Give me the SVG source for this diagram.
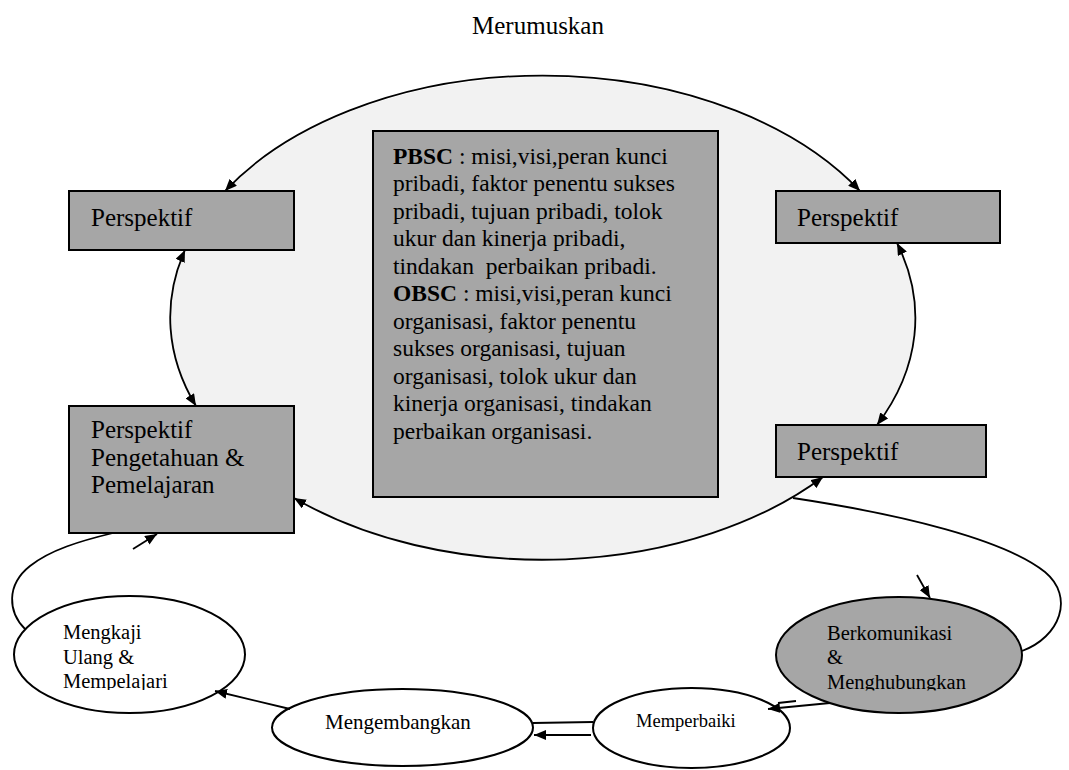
<svg xmlns="http://www.w3.org/2000/svg" width="1069" height="770" viewBox="0 0 1069 770">
  <style>
    text { font-family: "Liberation Serif", "Times New Roman", serif; fill: #000; }
    .box { fill: #a6a6a6; stroke: #000; stroke-width: 2; }
    .oval { fill: #fff; stroke: #000; stroke-width: 2; }
    .oval-g { fill: #a6a6a6; stroke: #000; stroke-width: 2; }
    .c { fill: none; stroke: #000; stroke-width: 1.8; }
    .arr { marker-end: url(#ah); }
    .both { marker-start: url(#ah); marker-end: url(#ah); }
    .t25 { font-size: 25px; }
    .t23 { font-size: 23.5px; white-space: pre; }
    .t21 { font-size: 21px; }
    .t20 { font-size: 20.5px; }
    .t18 { font-size: 18.5px; }
  </style>
  <defs>
    <marker id="ah" viewBox="0 0 12 10" refX="12" refY="5" markerWidth="12" markerHeight="10" markerUnits="userSpaceOnUse" orient="auto-start-reverse">
      <path d="M0,0 L12,5 L0,10 z" fill="#000"/>
    </marker>
    <clipPath id="clipL"><rect x="0" y="560" width="260" height="130"/></clipPath>
    <clipPath id="clipR"><rect x="770" y="560" width="260" height="130.5"/></clipPath>
  </defs>

  <rect width="1069" height="770" fill="#fff"/>

  <text id="title" class="t25" x="538" y="34" text-anchor="middle">Merumuskan</text>

  <g id="cycle-bg">
    <ellipse cx="542.5" cy="319" rx="372.5" ry="242" fill="#f2f2f2"/>
  </g>

  <g id="center-box">
    <rect class="box" x="373" y="131" width="345" height="366"/>
    <text class="t23" x="393">
      <tspan x="393" y="163.5"><tspan font-weight="bold">PBSC</tspan> : misi,visi,peran kunci</tspan>
      <tspan x="393" y="191">pribadi, faktor penentu sukses</tspan>
      <tspan x="393" y="218.5">pribadi, tujuan pribadi, tolok</tspan>
      <tspan x="393" y="246">ukur dan kinerja pribadi,</tspan>
      <tspan x="393" y="273.5">tindakan  perbaikan pribadi.</tspan>
      <tspan x="393" y="301"><tspan font-weight="bold">OBSC</tspan> : misi,visi,peran kunci</tspan>
      <tspan x="393" y="328.5">organisasi, faktor penentu</tspan>
      <tspan x="393" y="356">sukses organisasi, tujuan</tspan>
      <tspan x="393" y="383.5">organisasi, tolok ukur dan</tspan>
      <tspan x="393" y="411">kinerja organisasi, tindakan</tspan>
      <tspan x="393" y="438.5">perbaikan organisasi.</tspan>
    </text>
  </g>

  <g id="persp-left-top">
    <rect class="box" x="69" y="191" width="225" height="59"/>
    <text class="t25" x="91" y="226">Perspektif</text>
  </g>

  <g id="persp-right-top">
    <rect class="box" x="776" y="191" width="224" height="52"/>
    <text class="t25" x="797" y="226">Perspektif</text>
  </g>

  <g id="persp-right-bottom">
    <rect class="box" x="776" y="425" width="210" height="52"/>
    <text class="t25" x="797" y="460">Perspektif</text>
  </g>

  <g id="persp-learning">
    <rect class="box" x="69" y="406" width="225" height="127"/>
    <text class="t25" x="91" y="438">Perspektif</text>
    <text class="t25" x="91" y="465.5">Pengetahuan &amp;</text>
    <text class="t25" x="91" y="493">Pemelajaran</text>
  </g>

  <g id="mengkaji">
    <ellipse class="oval" cx="129.5" cy="654.5" rx="115.5" ry="58.5"/>
    <g clip-path="url(#clipL)">
      <text class="t20" x="63" y="639">Mengkaji</text>
      <text class="t20" x="63" y="663.5">Ulang &amp;</text>
      <text class="t20" x="63" y="688">Mempelajari</text>
    </g>
  </g>

  <g id="mengembangkan">
    <ellipse class="oval" cx="402.5" cy="727.5" rx="130.5" ry="38.5"/>
    <text class="t21" x="325" y="729">Mengembangkan</text>
  </g>

  <g id="memperbaiki">
    <ellipse class="oval" cx="691.5" cy="728" rx="98.5" ry="40"/>
    <text class="t18" x="636" y="727">Memperbaiki</text>
  </g>

  <g id="berkomunikasi">
    <ellipse class="oval-g" cx="899" cy="655" rx="123" ry="58"/>
    <g clip-path="url(#clipR)">
      <text class="t20" x="827" y="640">Berkomunikasi</text>
      <text class="t20" x="827" y="664">&amp;</text>
      <text class="t20" x="827" y="689">Menghubungkan</text>
    </g>
  </g>

  <g id="connectors">
    <path class="c both" d="M225,191 A372.5,242 0 0 1 860,191"/>
    <path class="c both" d="M185,250 A372.5,242 0 0 0 196,406"/>
    <path class="c both" d="M897,243 A372.5,242 0 0 1 877,425"/>
    <path class="c both" d="M294,498 A372.5,242 0 0 0 823,477"/>
    <path class="c" d="M793,498 C905,515 1005,540 1045,572 C1075,597 1060,637 1022,651"/>
    <path class="c arr" d="M917,575 L930,598"/>
    <path class="c arr" d="M830,703 L768,709"/>
    <path class="c" d="M778,703 L796,701"/>
    <path class="c" d="M533,723 L593,722"/>
    <path class="c arr" d="M591,735 L534,735"/>
    <path class="c arr" d="M290,709 L215,691"/>
    <path class="c" d="M25,629 C8,612 6,585 30,566 C50,550 80,541 113,533"/>
    <path class="c arr" d="M133,549 L157,534"/>
  </g>
</svg>
